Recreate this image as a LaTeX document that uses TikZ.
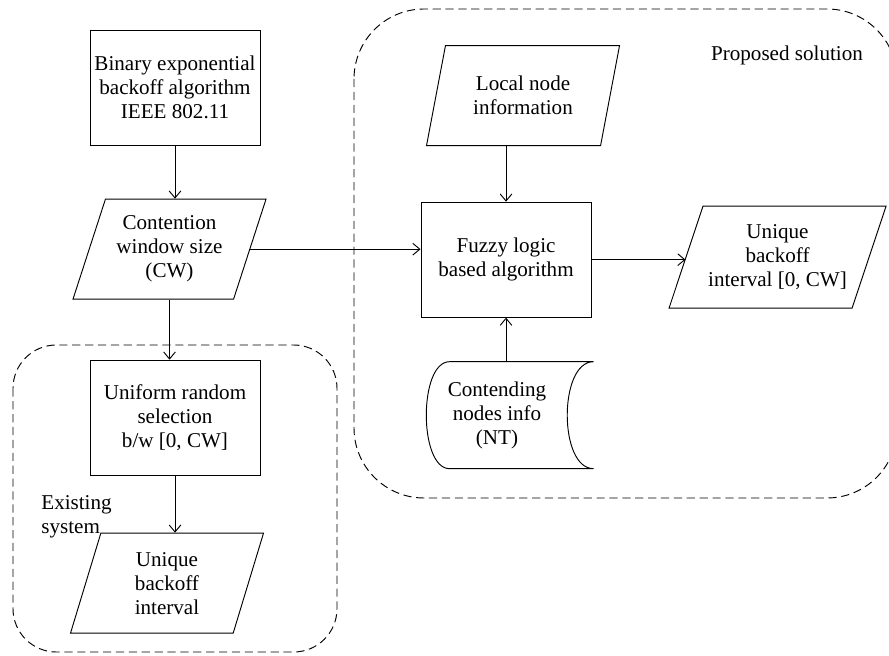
\documentclass[tikz,border=0pt]{standalone}
\usepackage{fontspec}
\setmainfont{Liberation Serif}
\usetikzlibrary{shapes.geometric, arrows.meta, calc}

\begin{document}
\begin{tikzpicture}[x=0.03cm, y=-0.03cm, thick, >={Straight Barb[length=6pt, width=10pt]},
  font=\fontsize{18}{20.5}\selectfont,
  proc/.style = {draw, rectangle, minimum width=5.1cm, minimum height=3.45cm, align=center, inner sep=0pt},
  io/.style = {draw, trapezium, trapezium left angle=64, trapezium right angle=116, trapezium stretches body,
    minimum width=5.79cm, minimum height=3cm, align=center, inner sep=0pt},
  region/.style = {dash pattern=on 7pt off 4pt, thick}]
  \clip (0,0) rectangle (889,656);
  \draw[region, rounded corners=2.1cm] (354,9) rectangle (897,498);
  \draw[region, rounded corners=1.3cm] (13,345) rectangle (337,652);
  \node (prop) at (787,55) {Proposed solution};
  \node (exist) [align=left, anchor=west] at (37,517) {Existing\\ system};
  \node[proc] (bin) at (175,87.5) {Binary exponential\\ backoff algorithm\\ IEEE 802.11};
  \node[io] (cw) [below of=bin, node distance=4.85cm, xshift=-0.165cm] {Contention\\ window size\\ (CW)};
  \node[proc] (uni) [below of=cw, node distance=5.055cm, xshift=0.165cm] {Uniform random\\ selection\\ b/w [0, CW]};
  \node[io] (ubi) [below of=uni, node distance=4.965cm, xshift=-0.24cm] {Unique\\ backoff\\ interval};
  \node[proc] (fuzzy) [right of=cw, node distance=10.095cm, yshift=-0.315cm] {Fuzzy logic\\ based algorithm};
  \node[io] (local) [above of=fuzzy, node distance=4.92cm, xshift=0.51cm] {Local node\\ information};
  \node[io, trapezium left angle=62.5, trapezium right angle=117.5, minimum width=6.51cm, minimum height=3.06cm]
    (out) [right of=fuzzy, node distance=8.145cm, yshift=0.075cm] {Unique\\ backoff\\ interval [0, CW]};
  \node (cont) [below of=fuzzy, node distance=4.665cm, xshift=-0.27cm, minimum width=4.2cm, minimum height=3.18cm,
    align=center, inner sep=0pt] {Contending\\ nodes info\\ (NT)};
  % stored data outline
  \draw ($(cont.north west)+(23,0)$) -- ($(cont.north east)+(26,0)$)
    .. controls ($(cont.north east)+(-9,0)$) and ($(cont.south east)+(-9,0)$) .. ($(cont.south east)+(26,0)$)
    -- ($(cont.south west)+(23,0)$)
    .. controls ($(cont.south west)+(-8,0)$) and ($(cont.north west)+(-8,0)$) .. ($(cont.north west)+(23,0)$) -- cycle;
  \draw[->] (bin.south) -- (bin.south |- cw.north);
  \draw[->] (cw.east) -- (cw.east -| fuzzy.west);
  \draw[->] (cw.south) -- (cw.south |- uni.north);
  \draw[->] (uni.south) -- (uni.south |- ubi.north);
  \draw[->] (fuzzy.north |- local.south) -- (fuzzy.north);
  \draw[->] (fuzzy.south |- cont.north) -- (fuzzy.south);
  \draw[->] (fuzzy.east) -- (fuzzy.east -| out.west);
\end{tikzpicture}
\end{document}
